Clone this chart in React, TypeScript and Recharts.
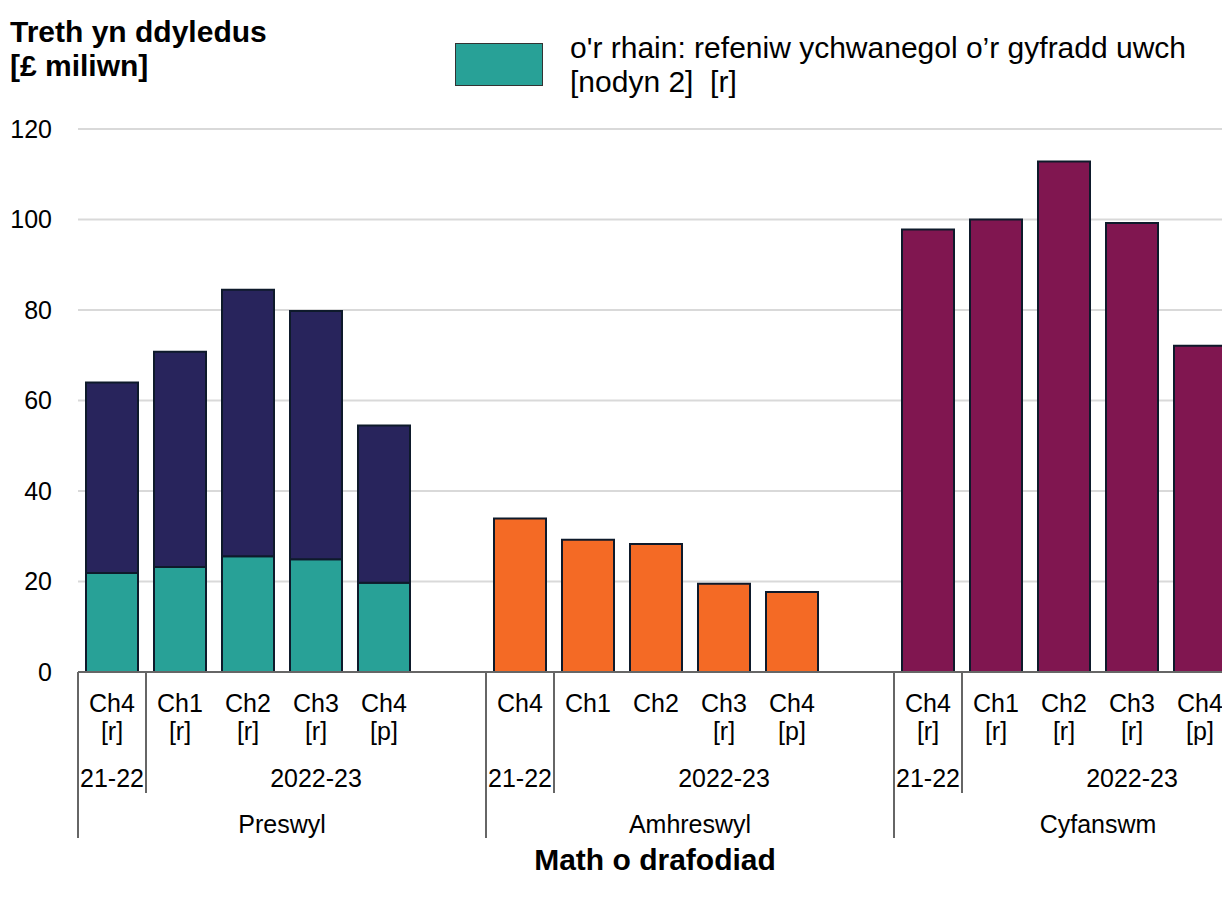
import React from "react";
import { BarChart, Bar, XAxis, YAxis, CartesianGrid, Legend } from "recharts";

const quarters = ["Ch4", "Ch1", "Ch2", "Ch3", "Ch4"];
const preswylMarks = ["[r]", "[r]", "[r]", "[r]", "[p]"];
const amhreswylMarks = ["", "", "", "[r]", "[p]"];
const cyfanswmMarks = ["[r]", "[r]", "[r]", "[r]", "[p]"];
const years = ["21-22", "2022-23"];
const groupNames = ["Preswyl", "Amhreswyl", "Cyfanswm"];

// £ miliwn
const preswylHigherRate = [21.9, 23.2, 25.6, 24.9, 19.7];
const preswylOther = [42.1, 47.6, 58.9, 54.9, 34.8];
const amhreswylTotal = [33.9, 29.2, 28.3, 19.5, 17.7];
const cyfanswmTotal = [97.8, 100.0, 112.8, 99.2, 72.1];
const yTicks = [0, 20, 40, 60, 80, 100, 120];

const TEAL = "#28a197";
const NAVY = "#28245c";
const ORANGE = "#f46a25";
const MAGENTA = "#801650";
const EDGE = "#0e1a2b";
const AXIS = "#666666";
const FONT = "'Liberation Sans', Arial, sans-serif";

const marks = [preswylMarks, amhreswylMarks, cyfanswmMarks];
const data: any[] = [];
groupNames.forEach((g, gi) => {
  quarters.forEach((q, qi) => {
    data.push({
      key: `${g}-${qi}`,
      quarter: q,
      mark: marks[gi][qi],
      group: g,
      pos: qi,
      higher: gi === 0 ? preswylHigherRate[qi] : null,
      other: gi === 0 ? preswylOther[qi] : null,
      amh: gi === 1 ? amhreswylTotal[qi] : null,
      cyf: gi === 2 ? cyfanswmTotal[qi] : null,
    });
  });
  // empty slot between groups
  data.push({ key: `${g}-gap`, quarter: "", mark: "", group: g, pos: -1 });
});

const PLOT_W = 1224;
const SLOT = PLOT_W / data.length;

function CategoryTick(props: any) {
  const { x, y, payload } = props;
  const d = data.find((row) => row.key === payload.value);
  if (!d || d.pos < 0) return null;
  const t = { fontSize: 25, fill: "#000", textAnchor: "middle" as const, fontFamily: FONT };
  return (
    <g>
      <text x={x} y={y + 40} {...t}>{d.quarter}</text>
      {d.mark && <text x={x} y={y + 68} {...t}>{d.mark}</text>}
      {d.pos === 0 && (
        <>
          <line x1={x - SLOT / 2} x2={x - SLOT / 2} y1={y} y2={y + 166} stroke={AXIS} strokeWidth={2} />
          <line x1={x + SLOT / 2} x2={x + SLOT / 2} y1={y} y2={y + 121} stroke={AXIS} strokeWidth={2} />
          <text x={x} y={y + 115} {...t}>{years[0]}</text>
          <text x={x + 3 * SLOT} y={y + 115} {...t}>{years[1]}</text>
          <text x={x + 2.5 * SLOT} y={y + 161} {...t}>{d.group}</text>
        </>
      )}
    </g>
  );
}

function LegendBox() {
  return (
    <div style={{ display: "flex", alignItems: "flex-start", fontFamily: FONT }}>
      <div style={{ width: 86, height: 41, background: TEAL, border: "1px solid #333", marginTop: 12 }} />
      <div style={{ marginLeft: 27, fontSize: 30, lineHeight: "34px", color: "#000", whiteSpace: "nowrap" }}>
        o'r rhain: refeniw ychwanegol o’r gyfradd uwch
        <br />
        [nodyn 2]&nbsp; [r]
      </div>
    </div>
  );
}

export default function App() {
  return (
    <div style={{ position: "fixed", left: 0, top: 0, width: 1222, height: 902, overflow: "hidden", fontFamily: FONT, background: "#fff" }}>
      <div style={{ position: "absolute", left: 10, top: 15, fontSize: 30, lineHeight: "34px", fontWeight: "bold", color: "#000", zIndex: 2 }}>
        Treth yn ddyledus
        <br />
        [£ miliwn]
      </div>
      <BarChart width={1310} height={902} data={data} margin={{ top: 129, right: 8, bottom: 30, left: 0 }} barSize={52}>
        <CartesianGrid vertical={false} stroke="#d9d9d9" strokeWidth={2} />
        <XAxis
          dataKey="key"
          interval={0}
          height={200}
          tickLine={false}
          tickSize={0}
          tickMargin={0}
          axisLine={{ stroke: AXIS, strokeWidth: 2 }}
          tick={<CategoryTick />}
        />
        <YAxis
          width={78}
          domain={[0, 120]}
          ticks={yTicks}
          axisLine={false}
          tickLine={false}
          tickSize={0}
          tickMargin={26}
          tick={{ fontSize: 25, fill: "#000", fontFamily: FONT }}
        />
        <Legend
          layout="horizontal"
          align="center"
          verticalAlign="middle"
          wrapperStyle={{ top: 31, left: 455, width: "auto" }}
          content={() => <LegendBox />}
        />
        <Bar dataKey="higher" stackId="a" fill={TEAL} stroke={EDGE} strokeWidth={2} isAnimationActive={false} />
        <Bar dataKey="other" stackId="a" fill={NAVY} stroke={EDGE} strokeWidth={2} isAnimationActive={false} />
        <Bar dataKey="amh" stackId="a" fill={ORANGE} stroke={EDGE} strokeWidth={2} isAnimationActive={false} />
        <Bar dataKey="cyf" stackId="a" fill={MAGENTA} stroke={EDGE} strokeWidth={2} isAnimationActive={false} />
      </BarChart>
      <div style={{ position: "absolute", left: 455, width: 400, top: 843, textAlign: "center", fontSize: 30, lineHeight: "34px", fontWeight: "bold", color: "#000" }}>
        Math o drafodiad
      </div>
    </div>
  );
}
